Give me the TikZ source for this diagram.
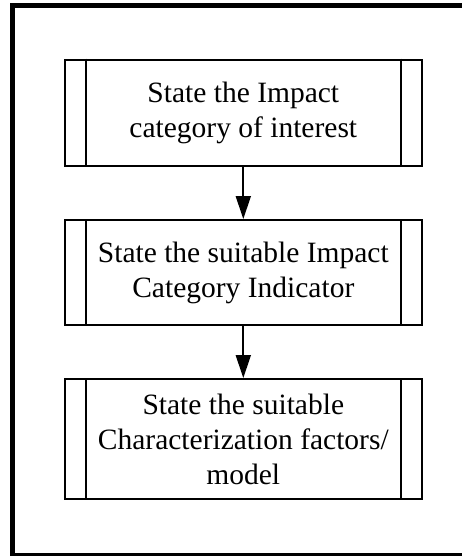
\documentclass[tikz,border=0pt]{standalone}
\usepackage{fontspec}
\setmainfont{Liberation Serif}
\usetikzlibrary{arrows.meta}
\tikzset{
  pbox/.style={draw,line width=2pt,minimum width=356.7pt,align=center,
    font=\fontsize{29.5}{35}\selectfont,inner sep=0pt},
  parr/.style={line width=2pt,-{Triangle[length=23pt,width=15pt]}},
  pframe/.style={line width=5pt},
}
\newcommand{\pside}[1]{% #1 = node name, draws the two inner side bars
  \draw[line width=2pt] ([xshift=21.7pt]#1.north west) -- ([xshift=21.7pt]#1.south west);
  \draw[line width=2pt] ([xshift=-21.7pt]#1.north east) -- ([xshift=-21.7pt]#1.south east);}

\begin{document}
\begin{tikzpicture}[x=1pt,y=-1pt]
\useasboundingbox (0,0) rectangle (462,556);
\clip (0,0) rectangle (462,556);
% outer frame, its right and bottom edges run off the page
\draw[pframe] (12.5,5.5) rectangle (466,555);
% the three steps
\node[pbox,minimum height=106.5pt] (s1) at (243.3,112.8) {State the Impact\\category of interest};
\node[pbox,minimum height=105pt] (s2) at (243.3,272.5) {State the suitable Impact\\Category Indicator};
\node[pbox,minimum height=120pt] (s3) at (243.3,439) {State the suitable\\Characterization factors/\\model};
\foreach \n in {s1,s2,s3}{\pside{\n}}
\draw[parr] (s1) -- (s2);
\draw[parr] (s2) -- (s3);
\end{tikzpicture}
\end{document}
